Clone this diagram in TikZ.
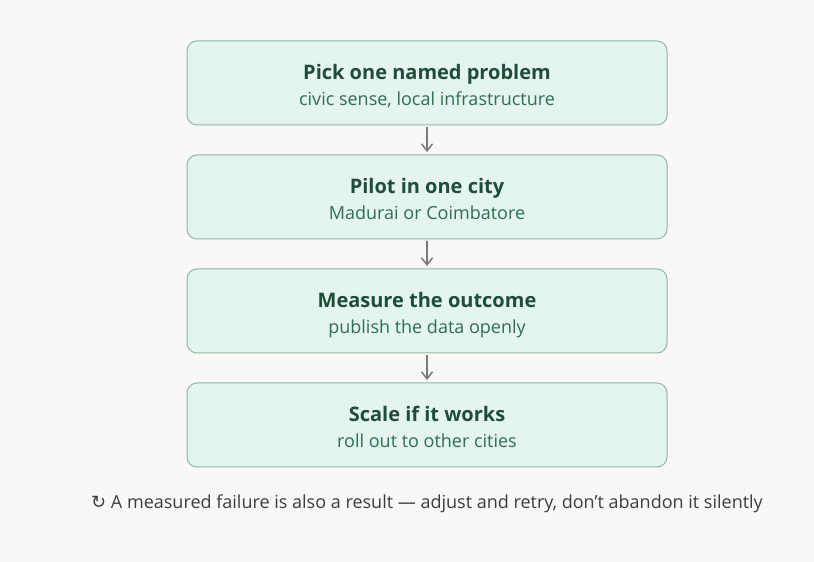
\documentclass[tikz,border=0pt]{standalone}
\usepackage{fontspec}
\setmainfont{Open Sans}
\newfontfamily\symfont{DejaVu Sans}
\usetikzlibrary{positioning, arrows.meta}
\definecolor{pilotBg}{HTML}{F9F8F6}
\definecolor{pilotFill}{HTML}{E4F4EE}
\definecolor{pilotBorder}{HTML}{8FB8A6}
\definecolor{pilotTitle}{HTML}{1F4D3A}
\definecolor{pilotSub}{HTML}{2F6E52}
\definecolor{pilotArrow}{HTML}{7A7A78}
\definecolor{pilotNote}{HTML}{3C3C3A}

\begin{document}
\begin{tikzpicture}[
    x=1pt, y=1pt,
    node distance=30pt,
    stepbox/.style={
        draw=pilotBorder, line width=1pt, rounded corners=10pt,
        fill=pilotFill, minimum height=84pt, minimum width=480pt,
        align=center, inner sep=0pt, outer sep=0pt
    },
    arrow/.style={-{Straight Barb[length=7pt, width=11pt]}, line width=1.5pt, draw=pilotArrow,
        shorten <=2pt, shorten >=3pt},
]

% Background and frame
\fill[pilotBg] (0,0) rectangle (814,562);
\useasboundingbox (0,0) rectangle (814,562);

\newcommand{\steptext}[2]{%
    {\fontsize{20}{24}\selectfont\bfseries\color{pilotTitle}\rule{0pt}{24.6pt}\strut#1}\\[3pt]
    {\fontsize{18}{21}\selectfont\color{pilotSub}\strut#2}}

% Steps
\node[stepbox] (pick) at (427,479) {\steptext{Pick one named problem}{civic sense, local infrastructure}};
\node[stepbox, below=of pick] (pilot) {\steptext{Pilot in one city}{Madurai or Coimbatore}};
\node[stepbox, below=of pilot] (measure) {\steptext{Measure the outcome}{publish the data openly}};
\node[stepbox, below=of measure] (scale) {\steptext{Scale if it works}{roll out to other cities}};

% Arrows
\draw[arrow] (pick.south) -- (pilot.north);
\draw[arrow] (pilot.south) -- (measure.north);
\draw[arrow] (measure.south) -- (scale.north);

% Note
\node[font=\fontsize{18}{21}\selectfont, text=pilotNote, below=24pt of scale] (note)
    {{\symfont ↻} A measured failure is also a result — adjust and retry, don’t abandon it silently};

\end{tikzpicture}
\end{document}
